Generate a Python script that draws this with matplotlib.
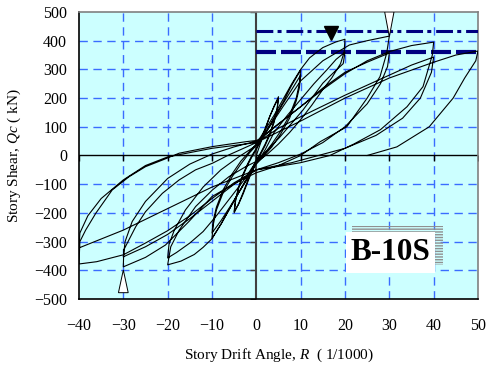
import numpy as np
import matplotlib.pyplot as plt
from matplotlib.patches import Rectangle, Polygon

plt.rcParams['font.family'] = ['Liberation Serif', 'DejaVu Serif']
plt.rcParams['mathtext.fontset'] = 'custom'
plt.rcParams['mathtext.it'] = 'Liberation Serif:italic'
plt.rcParams['mathtext.rm'] = 'Liberation Serif'

# axis ticks
x_ticks = [-40, -30, -20, -10, 0, 10, 20, 30, 40, 50]
y_ticks = [-500, -400, -300, -200, -100, 0, 100, 200, 300, 400, 500]

# hysteresis path: (R [1/1000], Qc [kN])
loop_5 = [(0, 0), (1, 45), (2, 90), (3, 135), (4, 172), (5, 205),
          (4.7, 165), (4, 120), (3, 75), (2, 40), (1, 10), (0, -15),
          (-1, -50), (-2, -90), (-3, -130), (-4, -168), (-5, -200),
          (-4.7, -160), (-4, -115), (-3, -70), (-2, -35), (-1, -5), (0, 20),
          (1, 55), (2, 95), (3, 135), (4, 170), (5, 200),
          (4.7, 160), (4, 115), (3, 70), (2, 35), (1, 5), (0, -20),
          (-1, -55), (-2, -95), (-3, -135), (-4, -170), (-5, -195),
          (-4.7, -155), (-4, -110), (-3, -65), (-2, -30), (-1, 0), (0, 25)]

loop_10 = [(1, 50), (2, 75), (4, 130), (6, 185), (8, 245), (10, 298),
           (9.7, 250), (9, 200), (7.5, 140), (5.5, 85), (3.5, 40), (1.5, 0), (0, -25),
           (-2, -75), (-4, -130), (-6, -185), (-8, -240), (-10, -288),
           (-9.7, -240), (-9, -190), (-7.5, -130), (-5.5, -75), (-3.5, -30), (-1.5, 10), (0, 35),
           (2, 80), (4, 130), (6, 180), (8, 230), (10, 280),
           (9.7, 235), (9, 190), (7.5, 130), (5.5, 75), (3.5, 30), (1.5, -5), (0, -30),
           (-2, -80), (-4, -130), (-6, -180), (-8, -228), (-10, -270),
           (-9.7, -225), (-9, -180), (-7.5, -120), (-5.5, -65), (-3.5, -20), (-1.5, 15), (0, 40)]

loop_20 = [(2, 90), (4, 140), (6, 195), (8, 250), (10, 300), (12, 340), (15, 376), (18, 396), (20, 405),
           (19.8, 360), (19, 320), (17, 270), (15, 230), (12.5, 175), (10, 125), (7.5, 80), (5, 40),
           (2.5, 5), (0, -25),
           (-2, -80), (-4, -130), (-6, -185), (-8, -240), (-10, -290), (-12, -320), (-14, -345),
           (-17, -368), (-20, -381),
           (-19.3, -318), (-17.4, -260), (-13.7, -178), (-9.9, -120), (-6.2, -74), (-2.4, -39),
           (0.6, -16), (2, 20),
           (4, 80), (7, 140), (10, 195), (13, 250), (16, 300), (18, 335), (20, 360),
           (19.6, 320), (17.5, 290), (15, 252), (10.5, 158), (5.3, 64), (2, 10), (0, -20),
           (-3, -90), (-6, -150), (-9, -210), (-12, -265), (-15, -305), (-18, -338), (-20, -357),
           (-19.7, -310), (-18.5, -260), (-16, -190), (-12, -110), (-8, -50), (-4, -5), (0, 35)]

loop_30 = [(3, 100), (6, 170), (10, 260), (15, 330), (21, 385), (25, 400), (30, 416),
           (29.4, 356), (27.9, 275), (25, 200), (20.4, 100), (14.4, 48), (10, 0), (5, -35), (0, -60),
           (-4, -90), (-10, -143), (-15.2, -230), (-20.5, -312), (-25, -355), (-30, -388),
           (-29.9, -329), (-27.2, -248), (-25, -196), (-21.2, -132), (-17.4, -85), (-13.7, -50),
           (-9.9, -27), (-6.2, 2), (0, 45),
           (5, 110), (10, 170), (15, 235), (20, 290), (25, 325), (30, 357),
           (29.6, 310), (28, 250), (25, 180), (20, 100), (15, 45), (10, 5), (5, -25), (0, -50),
           (-5, -100), (-10, -160), (-15, -220), (-20, -275), (-25, -318), (-30, -353),
           (-29.6, -300), (-28, -230), (-25, -160), (-20, -80), (-15, -30), (-10, 5), (-5, 30), (0, 50)]

loop_40 = [(5, 110), (10, 170), (15, 230), (20, 285), (25, 330), (30, 362), (35, 383), (40, 395),
           (39.7, 350), (37.6, 240), (34, 170), (28, 90), (22, 40), (16.6, 0), (10, -25), (5, -38), (0, -50),
           (-5, -95), (-10, -150), (-15, -210), (-20, -262), (-25, -305), (-30, -346), (-36, -370),
           (-40, -378),
           (-39.8, -300), (-38.5, -260), (-36.2, -201), (-32.5, -120), (-28.7, -74), (-25, -39),
           (-21.2, -16), (-17.4, 8), (-9.9, 31), (-2.4, 48), (1, 54),
           (5, 95), (10, 135), (20, 210), (30, 280), (35, 315), (40, 343),
           (39.5, 290), (37, 200), (33, 130), (27, 70), (20, 25), (14, 0), (8, -25), (0, -50),
           (-10, -110), (-20, -185), (-30, -260), (-40, -322),
           (-39.8, -270), (-38, -210), (-35, -150), (-30, -85), (-25, -35), (-20, -5), (-10, 25), (0, 45)]

loop_50 = [(10, 120), (20, 200), (30, 270), (40, 325), (45, 350), (50, 364),
           (49.5, 330), (47, 270), (44.4, 200), (39, 100), (31.7, 30), (25, 0)]

# reference load levels
q_dashdot = 435
q_dashed = 362

path = np.array(loop_5 + loop_10 + loop_20 + loop_30 + loop_40 + loop_50)

fig = plt.figure(figsize=(4.9, 3.7), dpi=100)
ax = fig.add_axes([0.1612, 0.1919, 0.8143, 0.7757])
ax.set_facecolor('#ccffff')
ax.set_xlim(-40, 50)
ax.set_ylim(-500, 500)

# grid
for xv in x_ticks[1:-1]:
    if xv != 0:
        ax.axvline(xv, color='#3a6cff', lw=1, dashes=(6, 4), zorder=1)
for yv in y_ticks[1:-1]:
    if yv != 0:
        ax.axhline(yv, color='#3a6cff', lw=1, dashes=(6, 4), zorder=1)

ax.axhline(0, color='black', lw=1, zorder=2)
ax.axvline(0, color='#404040', lw=1.5, zorder=2)
ax.plot([0] * len(y_ticks), y_ticks, ls='none', marker=0, ms=4, mew=1, color='#404040', zorder=2)
ax.plot(x_ticks, [0] * len(x_ticks), ls='none', marker=3, ms=4, mew=1, color='black', zorder=2)

ax.plot([0, 50], [q_dashdot, q_dashdot], color='#000080', lw=2.2, dashes=(5.5, 1.4, 1.3, 1.6), zorder=3)
ax.plot([0, 50], [q_dashed, q_dashed], color='#000080', lw=3, dashes=(4.8, 1.2), zorder=3)

ax.plot(path[:, 0], path[:, 1], color='black', lw=0.8, zorder=4)

# triangles
ax.plot(16.8, 427, marker='v', ms=10, color='black', zorder=5)
ax.add_patch(Polygon([(28.95, 500), (31.05, 500), (30, 414)], closed=True,
                     facecolor='white', edgecolor='black', lw=0.7, zorder=5))
ax.add_patch(Polygon([(-31.1, -478), (-28.9, -478), (-30, -399)], closed=True,
                     facecolor='white', edgecolor='black', lw=0.7, zorder=5))

# label box with striped shadow
ax.add_patch(Rectangle((0.684, 0.117), 0.228, 0.137, transform=ax.transAxes,
                       facecolor='none', edgecolor='#909090', hatch='------', lw=0, zorder=5))
ax.add_patch(Rectangle((0.668, 0.091), 0.224, 0.141, transform=ax.transAxes,
                       facecolor='white', edgecolor='none', zorder=6))
ax.text(0.78, 0.161, 'B-10S', transform=ax.transAxes, fontsize=22.5, fontweight='bold',
        ha='center', va='center', zorder=7)

for s in ['left', 'bottom']:
    ax.spines[s].set_color('black')
for s in ['top', 'right']:
    ax.spines[s].set_color('#808080')
for s in ax.spines.values():
    s.set_linewidth(1.2)

ax.set_xticks(x_ticks)
ax.set_yticks(y_ticks)
ax.tick_params(length=0, labelsize=11.5)
ax.tick_params(axis='x', pad=14)
ax.tick_params(axis='y', pad=8.5)
ax.set_xlabel('Story Drift Angle, $R$  ( 1/1000)', fontsize=11, labelpad=9)
ax.set_ylabel('Story Shear, $Qc$ ( kN)', fontsize=11, labelpad=8)

fig.savefig('out.png', dpi=100)
